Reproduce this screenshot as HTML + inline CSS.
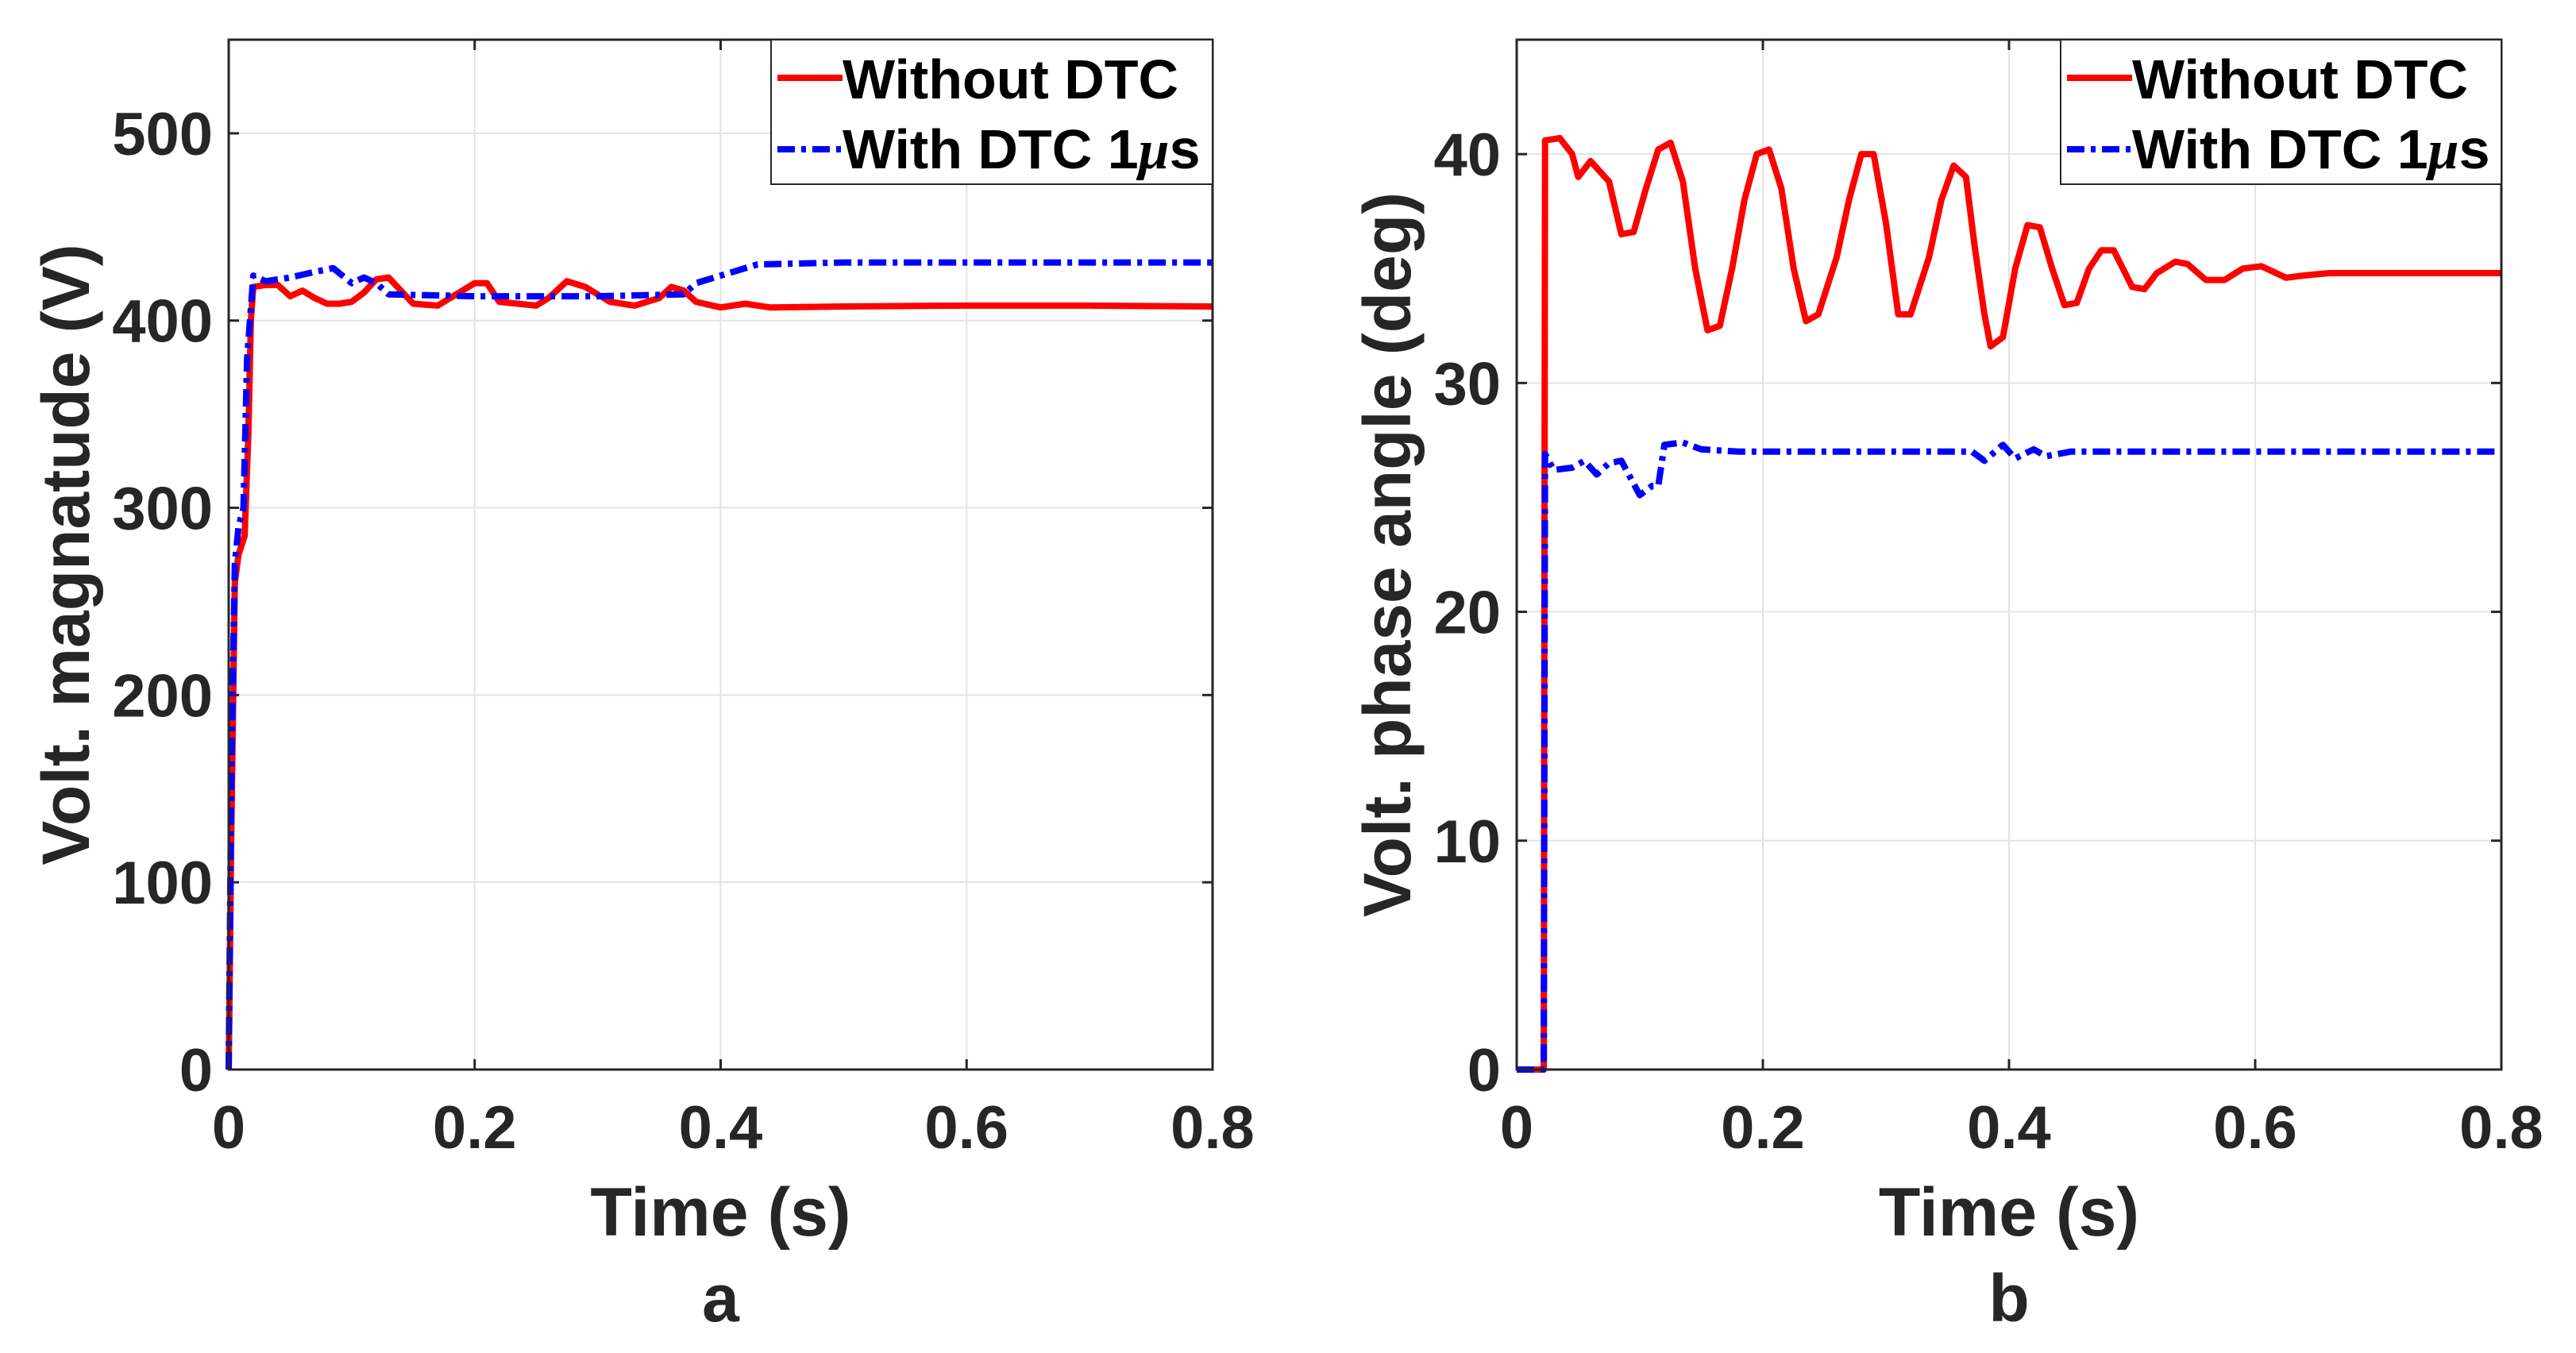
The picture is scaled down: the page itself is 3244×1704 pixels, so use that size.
<!DOCTYPE html>
<html><head><meta charset="utf-8"><style>
html,body{margin:0;padding:0;background:#fff;}
svg{display:block;font-family:"Liberation Sans",Arial,sans-serif;font-weight:bold;}
</style></head><body>
<svg id="chart" width="3244" height="1704" viewBox="0 0 3244 1704"></svg>
<script>
const timesA=[0,0.002,0.005,0.008,0.013,0.016,0.018,0.02,0.03,0.04,0.05,0.06,0.07,0.08,0.09,0.1,0.11,0.12,0.13,0.14,0.15,0.17,0.18,0.2,0.21,0.22,0.25,0.26,0.275,0.29,0.31,0.33,0.35,0.36,0.37,0.38,0.4,0.42,0.44,0.5,0.6,0.7,0.8];
const redA=[0,120,260,275,285,340,400,418,419,419,413,416,412,409,409,410,415,422,423,416,409,408,412,420,420,410,408,412,421,418,410,408,412,418,416,410,407,409,407,407.5,408,408,407.5];
const timesA2=[0,0.002,0.005,0.008,0.012,0.015,0.02,0.03,0.05,0.07,0.085,0.1,0.11,0.12,0.13,0.2,0.3,0.37,0.38,0.41,0.43,0.5,0.6,0.7,0.8];
const blueA=[0,150,270,290,300,380,424,421,423,426,428,420,423,420,414,413,413,414,420,426,430,431,431,431,431];
const timesB=[0,0.022,0.023,0.035,0.045,0.05,0.06,0.075,0.085,0.095,0.105,0.115,0.125,0.135,0.145,0.155,0.165,0.175,0.185,0.195,0.205,0.215,0.225,0.235,0.245,0.26,0.27,0.28,0.29,0.3,0.31,0.32,0.335,0.345,0.355,0.365,0.372,0.38,0.385,0.395,0.405,0.415,0.425,0.435,0.445,0.455,0.465,0.475,0.485,0.5,0.51,0.52,0.535,0.545,0.56,0.575,0.59,0.605,0.625,0.64,0.66,0.8];
const redB=[0,0,40.6,40.7,40,39,39.7,38.8,36.5,36.6,38.5,40.2,40.5,38.8,35,32.3,32.5,35,38,40,40.2,38.5,35,32.7,33,35.5,38,40,40,37,33,33,35.5,38,39.5,39,36,33,31.6,32,35,36.9,36.8,35,33.4,33.5,35,35.8,35.8,34.2,34.1,34.8,35.3,35.2,34.5,34.5,35,35.1,34.6,34.7,34.8,34.8];
const timesB2=[0,0.022,0.023,0.03,0.045,0.055,0.065,0.075,0.085,0.1,0.11,0.115,0.12,0.135,0.15,0.18,0.37,0.38,0.395,0.405,0.42,0.43,0.45,0.8];
const blueB=[0,0,26.9,26.2,26.3,26.6,26.0,26.5,26.6,25.1,25.5,25.5,27.3,27.4,27.1,27.0,27.0,26.6,27.3,26.7,27.1,26.8,27.0,27.0];
const xTicks=[0,0.2,0.4,0.6,0.8];
const xTickLabels=["0","0.2","0.4","0.6","0.8"];
const yTicksA=[0,100,200,300,400,500];
const yTicksB=[0,10,20,30,40];

const NS="http://www.w3.org/2000/svg";
const svg=document.getElementById('chart');
function mk(tag,attrs,parent,text){const e=document.createElementNS(NS,tag);for(const k in attrs)e.setAttribute(k,attrs[k]);if(text!==undefined)e.textContent=text;(parent||svg).appendChild(e);return e;}

function panel(cfg){
  const {L,R,T,B,ymax,yTicks,ylabel,letter,series,ylabX,legL,id}=cfg;
  const g=mk('g',{});
  
  
  const xs=v=>L+(v/0.8)*(R-L);
  const ys=v=>B-(v/ymax)*(B-T);
  mk('rect',{x:L,y:T,width:R-L,height:B-T,fill:'#fff'},g);
  xTicks.forEach((t,i)=>{
    const gl=mk('line',{x1:xs(t),x2:xs(t),y1:T,y2:B,stroke:'#e3e3e3','stroke-width':2},g);
    
    mk('line',{x1:xs(t),x2:xs(t),y1:B,y2:B-13,stroke:'#262626','stroke-width':3},g);
    mk('line',{x1:xs(t),x2:xs(t),y1:T,y2:T+13,stroke:'#262626','stroke-width':3},g);
    const tl=mk('text',{x:xs(t),y:1446,'text-anchor':'middle','font-size':76,fill:'#262626'},g,xTickLabels[i]);
    
  });
  yTicks.forEach(t=>{
    const gl=mk('line',{x1:L,x2:R,y1:ys(t),y2:ys(t),stroke:'#e3e3e3','stroke-width':2},g);
    
    mk('line',{x1:L,x2:L+13,y1:ys(t),y2:ys(t),stroke:'#262626','stroke-width':3},g);
    mk('line',{x1:R,x2:R-13,y1:ys(t),y2:ys(t),stroke:'#262626','stroke-width':3},g);
    const tl=mk('text',{x:L-20,y:ys(t)+27,'text-anchor':'end','font-size':76,fill:'#262626'},g,String(t));
    
  });
  series.forEach(s=>{
    const d=s.t.map((t,i)=>(i?'L':'M')+xs(t).toFixed(1)+','+ys(s.v[i]).toFixed(1)).join(' ');
    const p=mk('path',{d:d,fill:'none',stroke:s.color,'stroke-width':8,'stroke-linejoin':'round','stroke-dasharray':s.dash||'none'},g);
    
  });
  mk('rect',{x:L,y:T,width:R-L,height:B-T,fill:'none',stroke:'#262626','stroke-width':3},g);
  const yl=mk('text',{x:ylabX,y:(T+B)/2,'text-anchor':'middle','font-size':84,fill:'#262626',transform:`rotate(-90 ${ylabX} ${(T+B)/2})`},g,ylabel);
  
  const xl=mk('text',{x:(L+R)/2,y:1556,'text-anchor':'middle','font-size':86,fill:'#262626'},g,'Time (s)');
  
  const lt=mk('text',{x:(L+R)/2,y:1664,'text-anchor':'middle','font-size':84,fill:'#262626'},g,letter);
  
  const lg=mk('g',{},g);
  
  mk('rect',{x:legL,y:T,width:R-legL,height:182,fill:'#fff',stroke:'#262626','stroke-width':2},lg);
  const e1=mk('g',{},lg);
  
  mk('line',{x1:legL+8,x2:legL+90,y1:T+48,y2:T+48,stroke:'#ff0000','stroke-width':8},e1);
  mk('text',{x:legL+90,y:T+74,'font-size':70,fill:'#000'},e1,'Without DTC');
  const e2=mk('g',{},lg);
  
  mk('line',{x1:legL+8,x2:legL+90,y1:T+138,y2:T+138,stroke:'#0000ff','stroke-width':8,'stroke-dasharray':'22 8 6 8'},e2);
  const t2=mk('text',{x:legL+90,y:T+162,'font-size':70,fill:'#000'},e2,'With DTC 1');
  mk('tspan',{'font-style':'italic','font-family':'"Liberation Serif",serif'},t2,'μ');
  mk('tspan',{},t2,'s');
}
panel({id:'panel-a-voltage-magnitude',L:288,R:1527,T:50,B:1347,ymax:550,yTicks:yTicksA,ylabel:'Volt. magnatude (V)',letter:'a',ylabX:112,legL:971,
  series:[{name:'series-without-dtc',t:timesA,v:redA,color:'#ff0000'},{name:'series-with-dtc',t:timesA2,v:blueA,color:'#0000ff',dash:'22 8 6 8'}]});
panel({id:'panel-b-phase-angle',L:1910,R:3150,T:50,B:1347,ymax:45,yTicks:yTicksB,ylabel:'Volt. phase angle (deg)',letter:'b',ylabX:1776,legL:2595,
  series:[{name:'series-without-dtc',t:timesB,v:redB,color:'#ff0000'},{name:'series-with-dtc',t:timesB2,v:blueB,color:'#0000ff',dash:'22 8 6 8'}]});
</script>
</body></html>
